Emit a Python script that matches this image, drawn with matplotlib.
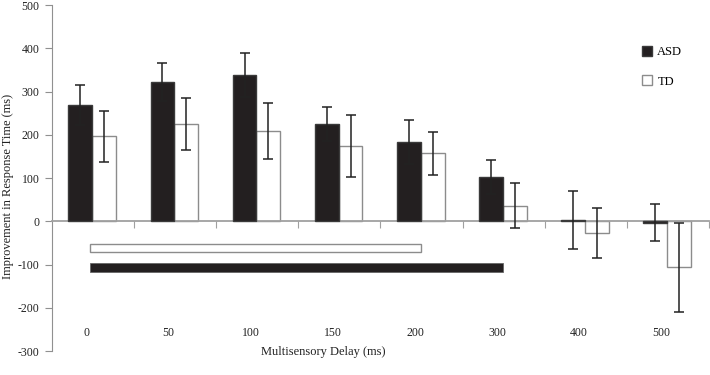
import numpy as np
import matplotlib.pyplot as plt

plt.rcParams['font.family'] = ['Liberation Serif', 'DejaVu Serif']
plt.rcParams['axes.unicode_minus'] = False

delays = ['0', '50', '100', '150', '200', '300', '400', '500']
asd_mean = [269, 322, 338, 225, 184, 102, 4, -3]
asd_err = [46, 43, 50, 40, 51, 39, 67, 43]
td_mean = [196, 225, 209, 174, 157, 36, -28, -106]
td_err = [59, 61, 65, 72, 49, 52, 58, 103]

# windows where the improvement is significant (index of last delay)
td_window = (0, 4)
asd_window = (0, 5)

x = np.arange(len(delays)) - 0.01
w = 0.29

fig = plt.figure(figsize=(7.1, 3.75), dpi=100)
ax = fig.add_axes([0.0732, 0.064, 0.9254, 0.9226])

ax.bar(x - w/2, asd_mean, w, color='#231f20', edgecolor='#3a3a3a', linewidth=1.0, label='ASD', zorder=3)
ax.bar(x + w/2, td_mean, w, color='white', edgecolor='#8c8c8c', linewidth=1.0, label='TD', zorder=2)
ax.errorbar(x - w/2, asd_mean, yerr=asd_err, fmt='none', ecolor='#222222', elinewidth=1.1, capsize=3.3, capthick=1.1, zorder=4)
ax.errorbar(x + w/2, td_mean, yerr=td_err, fmt='none', ecolor='#222222', elinewidth=1.1, capsize=3.3, capthick=1.1, zorder=4)

# significance windows
ax.barh(-62, x[td_window[1]] - x[td_window[0]] + 0.03, height=17, left=x[td_window[0]] - 0.03,
        color='white', edgecolor='#8c8c8c', linewidth=1.0)
ax.barh(-107, x[asd_window[1]] - x[asd_window[0]] + 0.03, height=20, left=x[asd_window[0]] - 0.03,
        color='#231f20', edgecolor='#666666', linewidth=0.6)

for xi, lab in zip(x, delays):
    ax.text(xi - 0.07, -258, lab, ha='center', va='center', fontsize=8.5, color='#222222')

ax.set_xlim(-0.5, 7.5)
ax.set_ylim(-300, 500)
ax.set_yticks(np.arange(-300, 501, 100))
ax.set_xticks(np.arange(8) + 0.5)
ax.set_xticklabels([])

ax.spines['top'].set_visible(False)
ax.spines['right'].set_visible(False)
ax.spines['bottom'].set_position(('data', 0))
ax.spines['bottom'].set_color('#a0a0a0')
ax.spines['bottom'].set_linewidth(1.3)
ax.spines['left'].set_color('#909090')
ax.tick_params(axis='x', direction='out', length=5, color='#a0a0a0')
ax.tick_params(axis='y', direction='out', length=5, color='#909090', labelsize=8.5, labelcolor='#222222', pad=4)

ax.set_xlabel('Multisensory Delay (ms)', fontsize=9, color='#222222')
ax.xaxis.set_label_coords(0.4125, 0.015)
ax.set_ylabel('Improvement in Response Time (ms)', fontsize=9, color='#222222')
ax.yaxis.set_label_coords(-0.058, 0.475)

ax.legend(loc='upper left', bbox_to_anchor=(0.895, 0.895), bbox_transform=fig.transFigure,
          frameon=False, fontsize=9, handlelength=0.85, handleheight=0.85, labelspacing=1.4,
          handletextpad=0.4, borderpad=0)

fig.savefig('out.png', dpi=100)
